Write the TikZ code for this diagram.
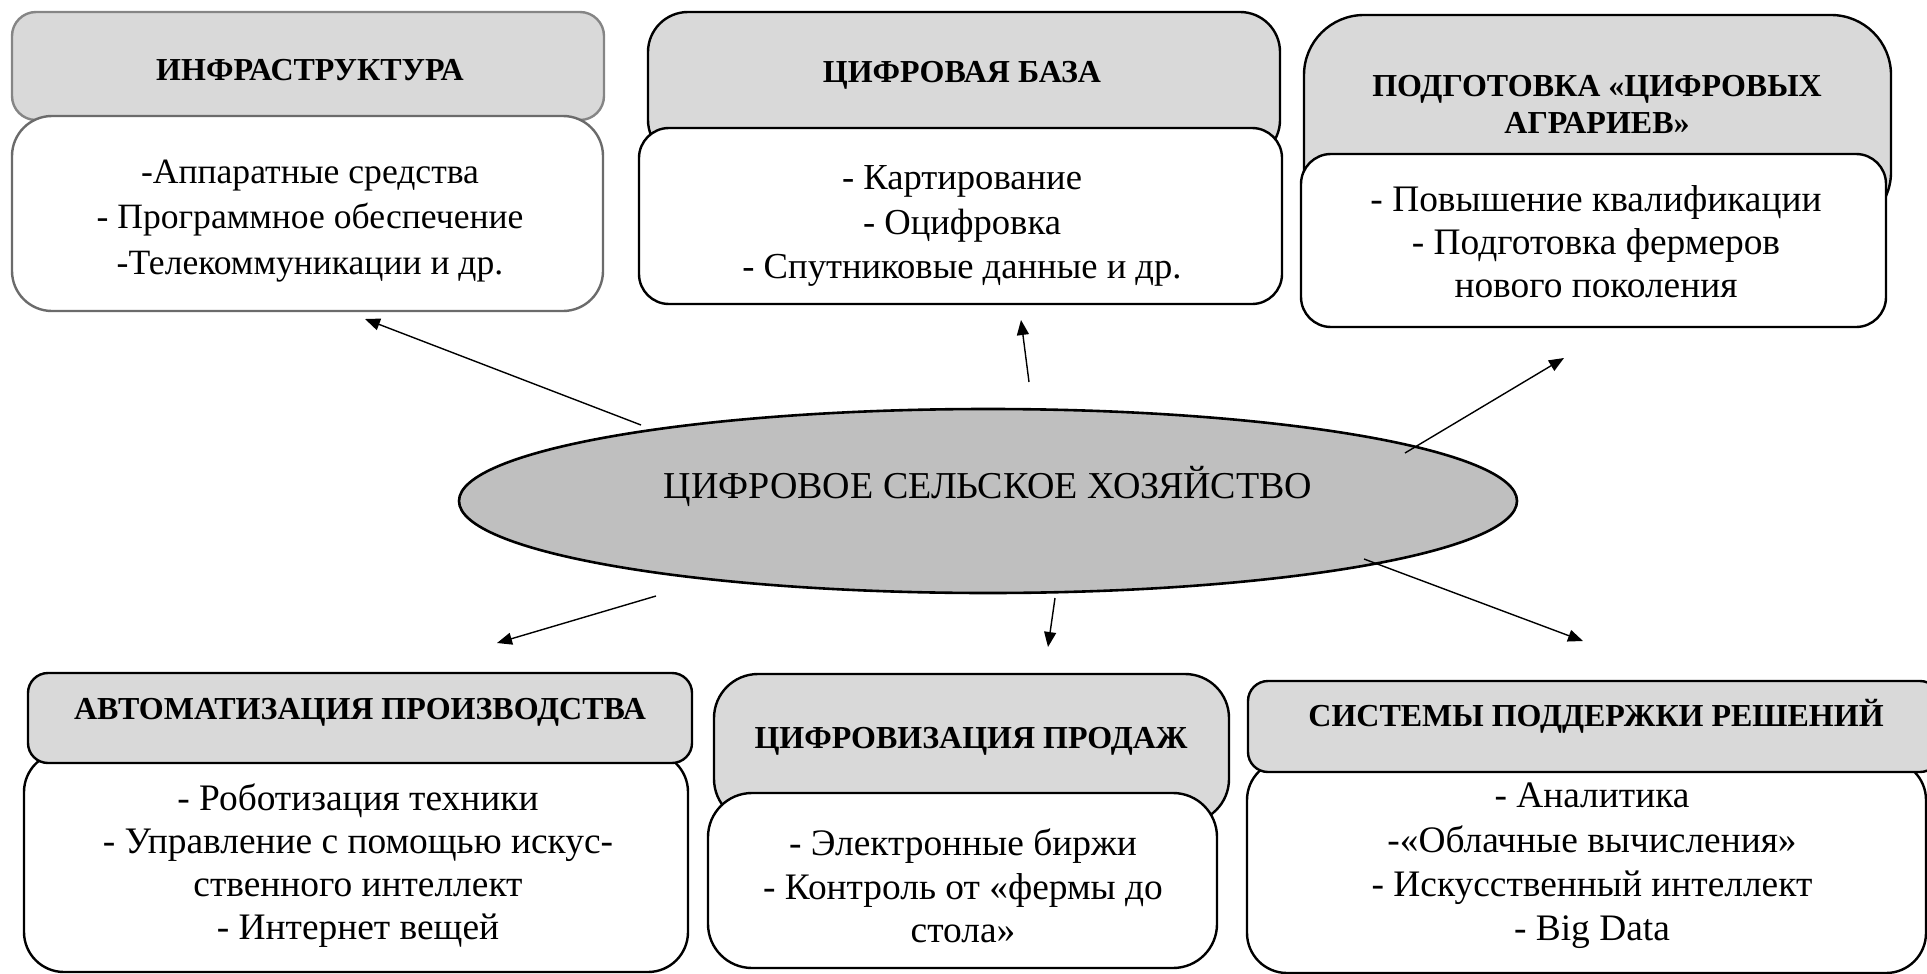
\documentclass[tikz,border=0pt]{standalone}
\usepackage{fontspec}
\setmainfont{Liberation Serif}
\usetikzlibrary{arrows.meta,fit,shapes.geometric}
\definecolor{hdrgray}{HTML}{D9D9D9}
\definecolor{ellgray}{HTML}{BFBFBF}
\definecolor{edgegrayA}{HTML}{858585}
\definecolor{edgegrayB}{HTML}{6B6B6B}
\begin{document}
\begin{tikzpicture}[x=0.5pt,y=-0.5pt,
  box/.style={draw=black, line width=1.2pt, inner sep=0pt, rectangle},
  hdr/.style={box, fill=hdrgray},
  bdy/.style={box, fill=white},
  htext/.style={font=\fontsize{16}{18.5}\selectfont\bfseries, align=center, inner sep=0pt},
  btext/.style={font=\fontsize{18.7}{21.7}\selectfont, align=center, inner sep=0pt},
  ctext/.style={font=\fontsize{19}{22}\selectfont, align=center, inner sep=0pt},
  arr/.style={-{Triangle[length=7.5pt,width=6pt]}, line width=0.7pt},
]
\useasboundingbox (0,0) rectangle (1927,974);

% ---- Block 1: Infrastructure
\node[hdr, draw=edgegrayA, rounded corners=12pt, fit={(12,12) (604,120)}] (infH) {};
\node[bdy, draw=edgegrayB, rounded corners=20pt, fit={(12,116) (603,311)}] (infB) {};
\node[htext] (infHT) at (310,70) {ИНФРАСТРУКТУРА};
\node[btext, font=\fontsize{17.8}{22.7}\selectfont] (infBT) at (310,221) {-Аппаратные средства\\- Программное обеспечение\\-Телекоммуникации и др.};

% ---- Block 2: Digital base
\node[hdr, rounded corners=20pt, fit={(648,12) (1280,160)}] (baseH) {};
\node[bdy, rounded corners=15pt, fit={(639,128) (1282,304)}] (baseB) {};
\node[htext] (baseHT) at (962,75) {ЦИФРОВАЯ БАЗА};
\node[btext, font=\fontsize{18.3}{22.2}\selectfont] (baseBT) at (962,226) {- Картирование\\- Оцифровка\\- Спутниковые данные и др.};

% ---- Block 3: Digital farmers
\node[hdr, rounded corners=30pt, fit={(1304,15) (1891,232)}] (farmH) {};
\node[bdy, rounded corners=15pt, fit={(1301,154) (1886,327)}] (farmB) {};
\node[htext] (farmHT) at (1597,104) {ПОДГОТОВКА «ЦИФРОВЫХ\\АГРАРИЕВ»};
\node[btext, font=\fontsize{18.7}{21.5}\selectfont] (farmBT) at (1596,242) {- Повышение квалификации\\- Подготовка фермеров\\нового поколения};

% ---- Block 4: Automation
\node[bdy, rounded corners=20pt, fit={(24,752) (688,972)}] (autoB) {};
\node[hdr, rounded corners=10pt, fit={(28,673) (692,763)}] (autoH) {};
\node[htext] (autoHT) at (360,712) {АВТОМАТИЗАЦИЯ ПРОИЗВОДСТВА};
\node[btext, font=\fontsize{18.7}{21.5}\selectfont] (autoBT) at (358,866) {- Роботизация техники\\- Управление с помощью искус-\\ственного интеллект\\- Интернет вещей};

% ---- Block 5: Sales
\node[hdr, rounded corners=22pt, fit={(714,674) (1229,823)}] (saleH) {};
\node[bdy, rounded corners=22pt, fit={(708,793) (1217,968)}] (saleB) {};
\node[htext] (saleHT) at (971,741) {ЦИФРОВИЗАЦИЯ ПРОДАЖ};
\node[btext] (saleBT) at (963,886) {- Электронные биржи\\- Контроль от «фермы до\\стола»};

% ---- Block 6: Decision support
\node[bdy, rounded corners=20pt, fit={(1247,760) (1926,973)}] (sysB) {};
\node[hdr, rounded corners=10pt, fit={(1248,681) (1940,772)}] (sysH) {};
\node[htext] (sysHT) at (1596,716) {СИСТЕМЫ ПОДДЕРЖКИ РЕШЕНИЙ};
\node[btext, font=\fontsize{18.7}{22.2}\selectfont] (sysBT) at (1592,866) {- Аналитика\\-«Облачные вычисления»\\- Искусственный интеллект\\- Big Data};

% ---- Centre ellipse
\node[ellipse, draw=black, line width=1.3pt, fill=ellgray, inner sep=0pt,
      minimum width=529pt, minimum height=92pt] (core) at (988,501) {};
\node[ctext] (coreT) at (988,486) {ЦИФРОВОЕ СЕЛЬСКОЕ ХОЗЯЙСТВО};

% ---- Arrow end points
\coordinate (s1) at (641,425);  \coordinate (e1) at (365,319);
\coordinate (s2) at (1029,382); \coordinate (e2) at (1021,320);
\coordinate (s3) at (1405,453); \coordinate (e3) at (1564,358);
\coordinate (s4) at (656,596);  \coordinate (e4) at (497,643);
\coordinate (s5) at (1055,598); \coordinate (e5) at (1048,647);
\coordinate (s6) at (1364,559); \coordinate (e6) at (1583,641);

\draw[arr] (s1) -- (e1);
\draw[arr] (s2) -- (e2);
\draw[arr] (s3) -- (e3);
\draw[arr] (s4) -- (e4);
\draw[arr] (s5) -- (e5);
\draw[arr] (s6) -- (e6);
\end{tikzpicture}
\end{document}
